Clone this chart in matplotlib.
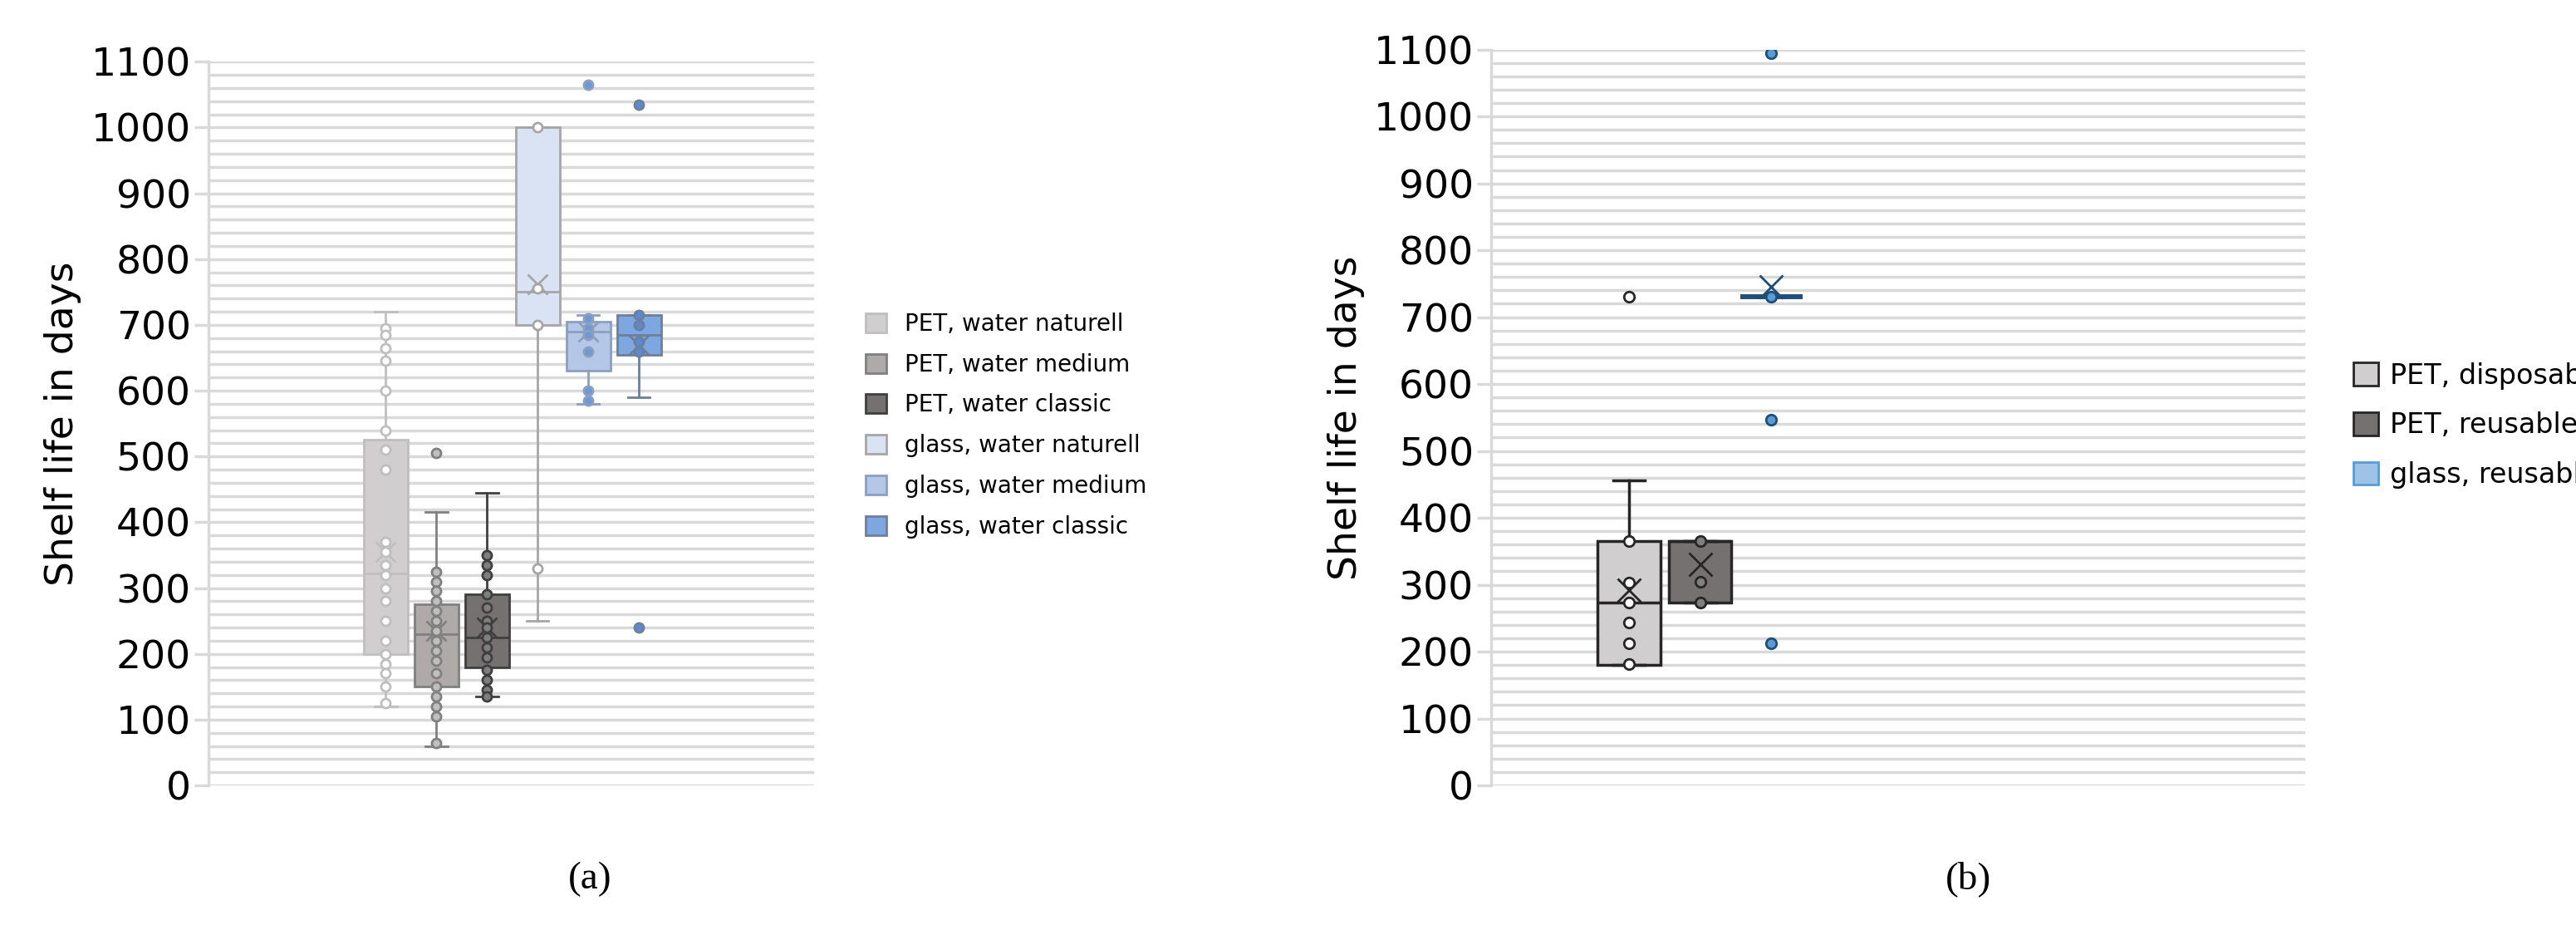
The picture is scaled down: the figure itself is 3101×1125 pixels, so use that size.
import numpy as np
import matplotlib
matplotlib.use('Agg')
import matplotlib.pyplot as plt
from matplotlib.patches import Patch

# panel (a): six groups
labels_a = ['PET, water naturell', 'PET, water medium', 'PET, water classic',
            'glass, water naturell', 'glass, water medium', 'glass, water classic']
q1_a = [200, 150, 180, 700, 630, 655]
med_a = [322, 230, 225, 750, 690, 685]
q3_a = [525, 275, 290, 1000, 705, 715]
lo_a = [120, 60, 135, 250, 580, 590]
hi_a = [720, 415, 445, 1000, 715, 715]
mean_a = [355, 235, 240, 762, 690, 670]
out_a = [[], [505], [], [], [1065], [1035, 240]]
pts_a = [
    [695, 685, 665, 645, 600, 540, 510, 480, 370, 355, 335, 320, 300, 280, 250, 220, 200, 185, 170, 150, 125],
    [325, 310, 295, 280, 265, 250, 235, 220, 205, 190, 170, 150, 135, 120, 105, 65],
    [350, 335, 320, 290, 270, 250, 240, 225, 210, 195, 175, 160, 145, 135],
    [1000, 755, 700, 330],
    [710, 695, 685, 660, 600, 585],
    [715, 700, 675, 660],
]
face_a = ['#d0cece', '#aeaaaa', '#767171', '#dae3f3', '#b4c7e7', '#7ea6e0']
edge_a = ['#bfbfbf', '#808080', '#3f3f3f', '#a6a6a6', '#8c9fbf', '#6d7f99']
mark_a = ['#ffffff', '#bfbfbf', '#7f7f7f', '#ffffff', '#6f98d8', '#5b8ad0']

# panel (b): three groups
labels_b = ['PET, disposable', 'PET, reusable', 'glass, reusable']
q1_b = [180, 273, 730]
med_b = [273, 365, 730]
q3_b = [365, 365, 730]
lo_b = [180, 273, 730]
hi_b = [456, 365, 730]
mean_b = [292, 330, 745]
out_b = [[730], [], [1095, 547, 213]]
pts_b = [[365, 303, 273, 243, 212, 182], [365, 304, 273], [730]]
face_b = ['#d0cece', '#767171', '#5b9bd5']
edge_b = ['#262626', '#262626', '#1f4e79']
mark_b = ['#ffffff', '#7f7f7f', '#5b9bd5']

fig = plt.figure(figsize=(31.01, 11.25), dpi=100)


def draw(ax, q1, med, q3, lo, hi, mean, out, pts, face, edge, mark, width, lw, ms):
    stats = []
    for i in range(len(q1)):
        stats.append({'q1': q1[i], 'med': med[i], 'q3': q3[i], 'whislo': lo[i], 'whishi': hi[i],
                      'mean': mean[i], 'fliers': out[i]})
    pos = np.arange(1, len(q1) + 1)
    bp = ax.bxp(stats, positions=pos, widths=width, patch_artist=True, showmeans=True,
                showfliers=False, zorder=3)
    for i in range(len(q1)):
        flat = q1[i] == q3[i]
        bp['boxes'][i].set(facecolor=face[i], edgecolor=edge[i], linewidth=4 if flat else lw)
        bp['medians'][i].set(color=edge[i], linewidth=4 if flat else lw)
        bp['means'][i].set(marker='x', markeredgecolor=edge[i], markersize=ms * 2.2, markeredgewidth=2)
        for w in bp['whiskers'][2 * i:2 * i + 2] + bp['caps'][2 * i:2 * i + 2]:
            w.set(color=edge[i], linewidth=lw)
        ax.plot([pos[i]] * len(pts[i]), pts[i], 'o', mfc=mark[i], mec=edge[i], ms=ms, mew=2, zorder=4)
        ax.plot([pos[i]] * len(out[i]), out[i], 'o', mfc=mark[i], mec=edge[i], ms=ms, mew=2, zorder=4)
    ax.set_ylim(0, 1100)
    ax.set_yticks(np.arange(0, 1101, 100))
    ax.set_yticks(np.arange(0, 1101, 20), minor=True)
    ax.grid(axis='y', which='both', color='#d9d9d9', linewidth=2.5)
    ax.set_axisbelow(True)
    ax.set_xticks([])
    for s in ['top', 'right', 'bottom']:
        ax.spines[s].set_visible(False)
    ax.spines['left'].set_color('#d9d9d9')
    ax.spines['left'].set_linewidth(2.5)
    ax.tick_params(axis='y', which='major', labelsize=34, length=12, color='#d9d9d9', width=2.5)
    ax.tick_params(axis='y', which='minor', length=0)
    ax.set_ylabel('Shelf life in days', fontsize=34, labelpad=8)


ax1 = fig.add_axes([0.081, 0.16, 0.235, 0.774])
draw(ax1, q1_a, med_a, q3_a, lo_a, hi_a, mean_a, out_a, pts_a, face_a, edge_a, mark_a, 0.87, 2, 8)
ax1.set_xlim(-2.5, 9.46)
h1 = [Patch(facecolor=face_a[i], edgecolor=edge_a[i], linewidth=2) for i in range(6)]
fig.legend(h1, labels_a, loc='center left', bbox_to_anchor=(0.328, 0.545), frameon=False,
           fontsize=20, handlelength=0.9, handleheight=0.9, labelspacing=0.75)

ax2 = fig.add_axes([0.579, 0.16, 0.316, 0.787])
draw(ax2, q1_b, med_b, q3_b, lo_b, hi_b, mean_b, out_b, pts_b, face_b, edge_b, mark_b, 0.88, 2.5, 9)
ax2.set_xlim(-0.93, 10.5)
h2 = [Patch(facecolor=face_b[0], edgecolor=edge_b[0], linewidth=2),
      Patch(facecolor=face_b[1], edgecolor=edge_b[1], linewidth=2),
      Patch(facecolor='#9dc3e6', edgecolor='#5b9bd5', linewidth=2)]
fig.legend(h2, labels_b, loc='center left', bbox_to_anchor=(0.904, 0.545), frameon=False,
           fontsize=24, handlelength=0.9, handleheight=0.9, labelspacing=0.8, handletextpad=0.4)

fig.text(0.229, 0.05, '(a)', fontsize=34, family='Liberation Serif', ha='center')
fig.text(0.764, 0.05, '(b)', fontsize=34, family='Liberation Serif', ha='center')

fig.savefig('out.png', dpi=100)
